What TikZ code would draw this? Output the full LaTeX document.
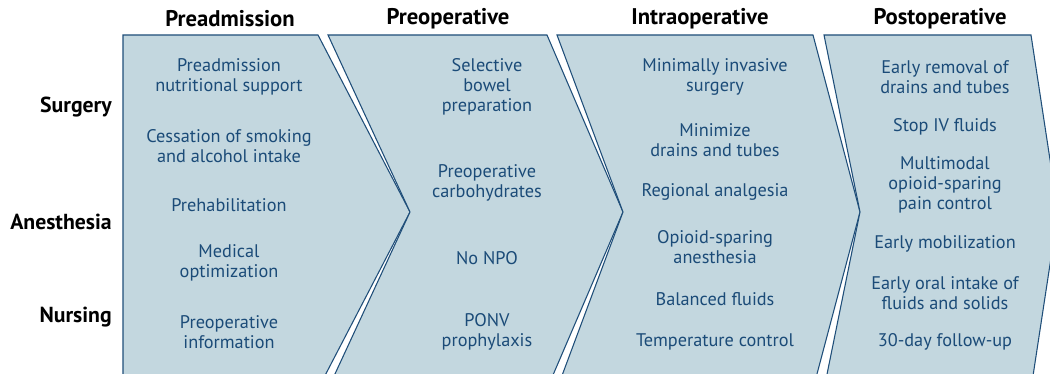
\documentclass[tikz,border=0pt]{standalone}
\usepackage{fontspec}
\setmainfont{PT Sans}

\definecolor{relleno}{HTML}{C3D7DF}
\definecolor{borde}{HTML}{1F4E79}
\definecolor{texto}{HTML}{1B4B78}

\tikzset{
  fase/.style={fill=relleno, draw=borde, line width=0.8pt, line join=miter},
  item/.style={text=texto, align=center, inner sep=0pt, font=\fontsize{13.7}{15}\selectfont},
  titulo/.style={inner sep=0pt, font=\bfseries\fontsize{17}{19}\selectfont},
  fila/.style={inner sep=0pt, anchor=east, font=\bfseries\fontsize{16.3}{19}\selectfont},
}

\begin{document}
\begin{tikzpicture}[x=0.75pt, y=-0.75pt]

        % Marco de la figura
        \useasboundingbox (0,0) rectangle (1050,374);

        % Flechas de las cuatro fases
        \begin{scope}
        \clip (0,0) rectangle (1050,374);
        \draw[fase] (123,35) -- (318,35) -- (410,212) -- (318,389) -- (123,389) -- cycle;
        \draw[fase] (328,35) -- (547,35) -- (623,212) -- (547,389) -- (328,389) -- (410,212) -- cycle;
        \draw[fase] (557,35) -- (813,35) -- (860,212) -- (813,389) -- (557,389) -- (623,212) -- cycle;
        \draw[fase] (824,35) -- (1031,35) -- (1058,212) -- (1031,389) -- (824,389) -- (860,212) -- cycle;
        \end{scope}

        % Titulos de las fases
        \node[titulo] (tpre) at (230,19) {Preadmission};
        \node[titulo] (tpreop) at (448,19) {Preoperative};
        \node[titulo] (tintra) at (700,19) {Intraoperative};
        \node[titulo] (tpost) at (940,19) {Postoperative};

        % Filas
        \node[fila] (surg) at (112,107) {Surgery};
        \node[fila] (anes) at (112,222) {Anesthesia};
        \node[fila] (nurs) at (112,317) {Nursing};

        % Preadmission
        \node[item] (pa1) at (229,77) {Preadmission\\nutritional support};
        \node[item] (pa2) at (229,146) {Cessation of smoking\\and alcohol intake};
        \node[item] (pa3) at (229,205) {Prehabilitation};
        \node[item] (pa4) at (229,263) {Medical\\optimization};
        \node[item] (pa5) at (229,332) {Preoperative\\information};

        % Preoperative
        \node[item] (po1) at (487,87) {Selective\\bowel\\preparation};
        \node[item] (po2) at (487,183) {Preoperative\\carbohydrates};
        \node[item] (po3) at (487,258) {No NPO};
        \node[item] (po4) at (487,332) {PONV\\prophylaxis};

        % Intraoperative
        \node[item] (io1) at (715,77) {Minimally invasive\\surgery};
        \node[item] (io2) at (715,140) {Minimize\\drains and tubes};
        \node[item] (io3) at (715,192) {Regional analgesia};
        \node[item] (io4) at (715,247) {Opioid-sparing\\anesthesia};
        \node[item] (io5) at (715,299) {Balanced fluids};
        \node[item] (io6) at (715,342) {Temperature control};

        % Postoperative
        \node[item] (ps1) at (945,77) {Early removal of\\drains and tubes};
        \node[item] (ps2) at (945,127) {Stop IV fluids};
        \node[item] (ps3) at (945,185) {Multimodal\\opioid-sparing\\pain control};
        \node[item] (ps4) at (945,244) {Early mobilization};
        \node[item] (ps5) at (945,293) {Early oral intake of\\fluids and solids};
        \node[item] (ps6) at (945,342) {30-day follow-up};

\end{tikzpicture}
\end{document}
